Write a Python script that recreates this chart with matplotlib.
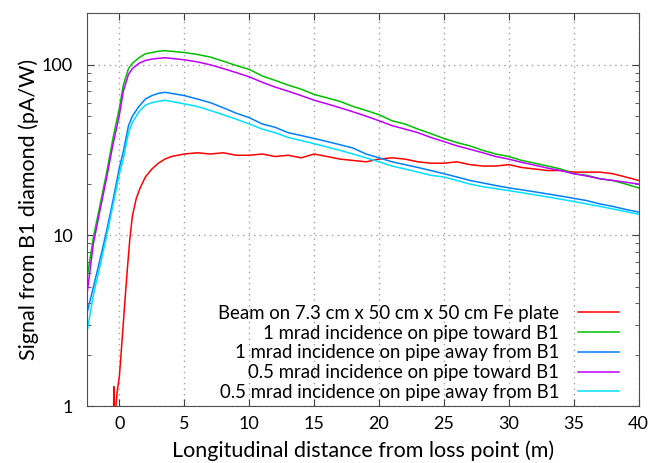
import matplotlib
matplotlib.use("Agg")
import matplotlib.pyplot as plt
from matplotlib.ticker import FixedLocator, LogLocator, NullFormatter

plt.rcParams['font.family'] = ['Lato', 'DejaVu Sans']

# distance from loss point (m)
x = [-2.5, -2.0, -1.5, -1.0, -0.5, 0.0, 0.3, 0.7, 1.0, 1.5, 2.0, 2.5, 3.0, 3.5, 4.0, 5.0,
     6, 7, 8, 9, 10, 11, 12, 13, 14, 15, 16, 17, 18, 19, 20, 21, 22, 23, 24, 25, 26, 27,
     28, 29, 30, 31, 32, 33, 34, 35, 36, 37, 38, 39, 40]

# 1 mrad incidence on pipe toward B1
green = [5.6, 9.8, 15.0, 23.0, 37.0, 56.0, 76.0, 95.0, 102.0, 110.0, 116.0, 118.0, 120.0, 121.0, 120.0, 118.0,
         115.0, 111.0, 105.0, 99.0, 94.0, 86.0, 81.0, 76.0, 72.0, 67.0, 64.0, 61.0, 57.0, 54.0, 51.0, 47.0,
         45.0, 42.0, 39.5, 37.0, 35.0, 33.5, 31.5, 30.0, 29.0, 27.5, 26.5, 25.5, 24.5, 23.0, 22.5, 21.5,
         21.0, 20.0, 19.0]

# 1 mrad incidence on pipe away from B1
blue = [3.5, 5.0, 7.2, 10.5, 16.0, 25.0, 31.0, 44.0, 50.0, 57.0, 63.0, 66.0, 68.0, 69.0, 68.0, 66.0,
        63.0, 60.0, 56.0, 52.0, 49.0, 45.0, 43.0, 40.0, 38.5, 37.0, 35.5, 34.0, 32.5, 30.0, 28.5, 27.0,
        26.0, 25.0, 24.0, 23.0, 22.0, 21.0, 20.3, 19.6, 19.0, 18.5, 18.0, 17.5, 17.0, 16.5, 16.0, 15.3,
        14.8, 14.2, 13.7]

# 0.5 mrad incidence on pipe toward B1
purple = [4.5, 9.0, 14.0, 21.5, 34.0, 51.0, 70.0, 88.0, 95.0, 102.0, 106.0, 108.0, 109.0, 110.0, 109.0, 107.0,
          104.0, 100.0, 95.0, 90.0, 85.0, 79.0, 74.0, 70.0, 66.0, 62.0, 59.0, 56.0, 53.0, 50.0, 47.0, 44.0,
          42.0, 40.0, 37.5, 35.5, 33.5, 32.0, 30.5, 29.0, 28.0, 26.8, 25.8, 24.8, 24.0, 23.0, 22.3, 21.5,
          21.0, 20.5, 20.0]

# 0.5 mrad incidence on pipe away from B1
cyan = [2.7, 4.5, 6.6, 9.8, 15.0, 23.0, 28.0, 40.0, 46.0, 53.0, 58.0, 60.0, 61.0, 62.0, 61.0, 59.0,
        57.0, 54.0, 51.0, 48.0, 45.0, 42.0, 40.0, 37.5, 36.0, 34.5, 33.0, 31.5, 30.0, 28.5, 27.0, 25.5,
        24.5, 23.5, 22.5, 22.0, 21.0, 20.0, 19.3, 18.8, 18.3, 17.8, 17.3, 16.8, 16.3, 15.8, 15.3, 14.8,
        14.3, 13.8, 13.3]

# Beam on 7.3 cm x 50 cm x 50 cm Fe plate
x_red = [-0.45, -0.43, -0.40, -0.30, -0.15, 0.0, 0.2, 0.4, 0.6, 0.8, 1.0, 1.3, 1.6, 2.0, 2.5, 3.0, 3.5, 4.0,
         5, 6, 7, 8, 9, 10, 11, 12, 13, 14, 15, 16, 17, 18, 19, 20, 21, 22, 23, 24, 25, 26, 27,
         28, 29, 30, 31, 32, 33, 34, 35, 36, 37, 38, 39, 40]
red = [0.9, 1.3, 0.9, 0.95, 1.25, 1.5, 2.4, 3.9, 6.2, 9.5, 13.0, 16.5, 19.0, 22.0, 24.5, 26.5, 28.0, 29.0,
       30.0, 30.5, 30.0, 30.5, 29.5, 29.5, 30.0, 29.0, 29.5, 28.5, 30.0, 29.0, 28.0, 27.5, 27.0, 28.0,
       28.5, 28.0, 27.0, 26.5, 26.5, 27.0, 26.0, 25.5, 25.5, 26.0, 25.0, 24.5, 24.0, 24.0, 23.5, 23.5,
       23.5, 23.0, 22.0, 21.0]

labels = ['Beam on 7.3 cm x 50 cm x 50 cm Fe plate',
          '1 mrad incidence on pipe toward B1',
          '1 mrad incidence on pipe away from B1',
          '0.5 mrad incidence on pipe toward B1',
          '0.5 mrad incidence on pipe away from B1']

fig = plt.figure(figsize=(6.49, 4.63), dpi=100)
ax = fig.add_axes([0.134, 0.123, 0.850, 0.848])

ax.plot(x_red, red, color='#ff0000', lw=1.1, label=labels[0])
ax.plot(x, green, color='#00c000', lw=1.1, label=labels[1])
ax.plot(x, blue, color='#0080ff', lw=1.1, label=labels[2])
ax.plot(x, purple, color='#c000ff', lw=1.1, label=labels[3])
ax.plot(x, cyan, color='#00e0ff', lw=1.1, label=labels[4])

ax.set_yscale('log')
ax.set_xlim(-2.5, 40)
ax.set_ylim(1, 200)
ax.xaxis.set_major_locator(FixedLocator([0, 5, 10, 15, 20, 25, 30, 35, 40]))
ax.yaxis.set_major_locator(FixedLocator([1, 10, 100]))
ax.set_yticklabels(['1', '10', '100'])
ax.yaxis.set_minor_locator(LogLocator(base=10, subs=range(2, 10)))
ax.yaxis.set_minor_formatter(NullFormatter())

ax.tick_params(which='both', direction='in', top=True, right=True, labelsize=13, color='#404040')
ax.tick_params(which='major', length=5)
ax.tick_params(which='minor', length=3)
ax.tick_params(axis='x', which='major', pad=7)
ax.tick_params(axis='y', which='major', pad=10)
for s in ax.spines.values():
    s.set_color('#505050')

ax.grid(True, which='major', linestyle=(0, (1, 3)), color='#a0a0a0', lw=1.0)

ax.set_xlabel('Longitudinal distance from loss point (m)', fontsize=15.5, labelpad=6)
ax.set_ylabel('Signal from B1 diamond (pA/W)', fontsize=15.5, labelpad=2)

leg = ax.legend(loc='lower right', frameon=False, markerfirst=False, fontsize=13.4,
                handlelength=2.2, labelspacing=0.15, borderpad=0, borderaxespad=0,
                handletextpad=1.0, bbox_to_anchor=(0.964, 0.013))
for t in leg.get_texts():
    t.set_ha('right')

fig.savefig('out.png', dpi=100)
